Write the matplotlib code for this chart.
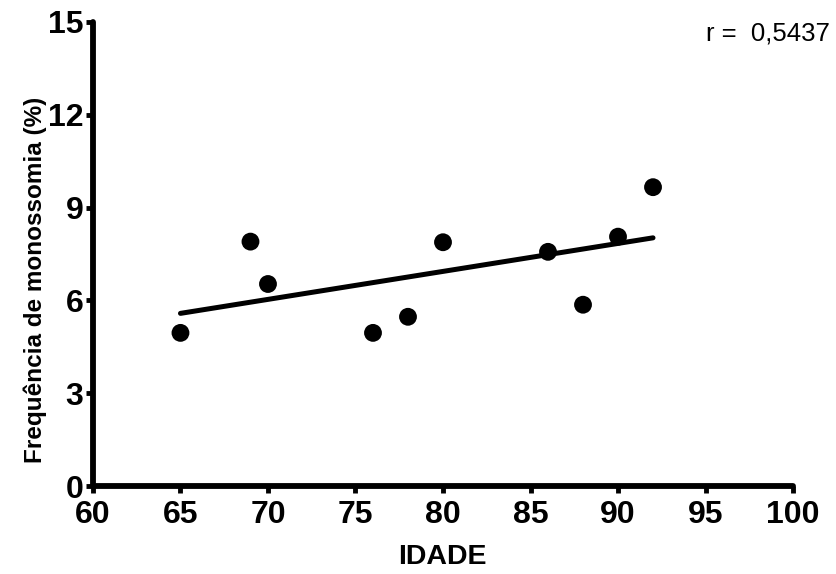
import matplotlib
matplotlib.use("Agg")
import matplotlib.pyplot as plt
import numpy as np

idade = [65, 69, 70, 76, 78, 80, 86, 88, 90, 92]
freq = [4.95, 7.90, 6.53, 4.95, 5.47, 7.88, 7.57, 5.86, 8.06, 9.66]
xticks = [60, 65, 70, 75, 80, 85, 90, 95, 100]
yticks = [0, 3, 6, 9, 12, 15]

plt.rcParams['font.family'] = ['Liberation Sans', 'DejaVu Sans']

fig = plt.figure(figsize=(8.36, 5.74), dpi=100)
ax = fig.add_axes([0.1112, 0.1533, 0.8374, 0.8084])

slope, intercept = np.polyfit(idade, freq, 1)
xl = np.array([min(idade), max(idade)])
ax.plot(xl, slope * xl + intercept, color='black', lw=3.6, solid_capstyle='round', zorder=2)
ax.scatter(idade, freq, s=165, color='black', zorder=3, edgecolors='none')

ax.set_xlim(60, 100)
ax.set_ylim(0, 15)
ax.set_xticks(xticks)
ax.set_yticks(yticks)
for s in ['top', 'right']:
    ax.spines[s].set_visible(False)
for s in ['left', 'bottom']:
    ax.spines[s].set_linewidth(4.2)
    ax.spines[s].set_capstyle('round')
ax.tick_params(axis='x', direction='out', length=5, width=3.5, labelsize=23, pad=5)
ax.tick_params(axis='y', direction='out', length=5, width=3.5, labelsize=23, pad=2)
for lab in ax.get_xticklabels() + ax.get_yticklabels():
    lab.set_fontweight('bold')

ax.set_xlabel('IDADE', fontsize=20.5, fontweight='bold')
ax.set_ylabel('Frequência de monossomia (%)', fontsize=17.5, fontweight='bold')
ax.xaxis.set_label_coords(0.4986, -0.152)
ax.yaxis.set_label_coords(-0.082, 0.445)
ax.xaxis.label.set_va('center')
ax.yaxis.label.set_va('center')

fig.text(0.993, 0.9425, 'r =  0,5437', ha='right', va='center', fontsize=18.5)

fig.savefig('out.png', dpi=100)
